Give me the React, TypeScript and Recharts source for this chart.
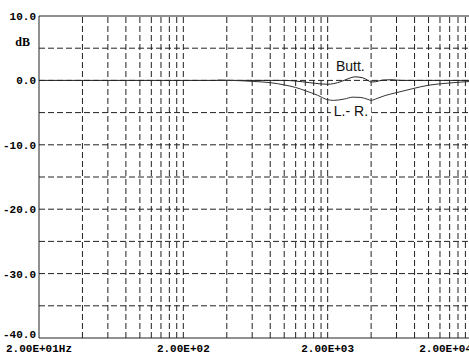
import { LineChart, Line, XAxis, YAxis, ReferenceLine, ReferenceDot } from 'recharts';

// Butterworth response (Hz / dB)
const buttFreq = [20, 1000, 1200, 1500, 1800, 2000, 2200, 2500, 2800, 3100, 3500, 3800, 4000, 4300, 4800, 5500, 6500, 20000];
const buttDb = [0, 0, -0.1, -0.35, -0.55, -0.6, -0.5, -0.15, 0.3, 0.55, 0.4, 0.0, -0.25, -0.2, 0.05, 0.1, 0, 0];

// Linkwitz-Riley response (Hz / dB)
const lrFreq = [344, 500, 600, 800, 1000, 1200, 1400, 1700, 2000, 2200, 2600, 3000, 3400, 3800, 4000, 4400, 5000, 6000, 7700, 10000, 14000, 20000];
const lrDb = [0.05, -0.05, -0.15, -0.35, -0.7, -1.1, -1.6, -2.3, -3.0, -3.1, -2.9, -2.6, -2.65, -2.95, -3.1, -2.8, -2.35, -1.9, -1.3, -0.75, -0.4, -0.15];

const xTicks = [20, 200, 2000, 20000];
const xTickLabels = ['2.00E+01Hz', '2.00E+02', '2.00E+03', '2.00E+04'];
const yTicks = [10, 0, -10, -20, -30, -40];

const decades = [20, 200, 2000];
const multipliers = [1, 2, 3, 4, 5, 6, 7, 8, 9];
const gridFreqs = decades.flatMap((d) => multipliers.map((m) => d * m)).filter((f) => f > 20);
const gridDb = [5, 0, -5, -10, -15, -20, -25, -30, -35];

const buttData = buttFreq.map((f, i) => ({ f, db: buttDb[i] }));
const lrData = lrFreq.map((f, i) => ({ f, db: lrDb[i] }));

const monoFont = '"Liberation Mono", "DejaVu Sans Mono", monospace';
const labelFont = '"Liberation Sans", Arial, sans-serif';

const XTick = (props: any) => {
  const { x, y, payload } = props;
  const i = xTicks.indexOf(payload.value);
  const anchor = i === xTicks.length - 1 ? 'end' : 'middle';
  return (
    <text x={x} y={y} dy="0.71em" textAnchor={anchor} fontFamily={monoFont} fontSize={11} fontWeight="bold" fill="#000">
      {xTickLabels[i]}
    </text>
  );
};

const YTick = (props: any) => {
  const { x, y, payload } = props;
  // bottom label sits a little above the axis so it clears the Hz label
  const lift = payload.value === yTicks[yTicks.length - 1] ? -4 : 0;
  return (
    <text x={x} y={y + lift} dy="0.355em" textAnchor="end" fontFamily={monoFont} fontSize={11} fontWeight="bold" fill="#000">
      {Number(payload.value).toFixed(1)}
    </text>
  );
};

const curveLabel = (text: string, boxed: boolean) => (props: any) => {
  const vb = props.viewBox || {};
  const cx = (vb.x ?? 0) + (vb.width || 0) / 2;
  const cy = (vb.y ?? 0) + (vb.height || 0) / 2;
  return (
    <g>
      {boxed && <rect x={cx - 20} y={cy - 12} width={40} height={15} fill="#fff" />}
      <text x={cx} y={cy} textAnchor="middle" fontFamily={labelFont} fontSize={14} fill="#111">
        {text}
      </text>
    </g>
  );
};

const unitLabel = (props: any) => {
  const vb = props.viewBox || {};
  const cx = (vb.x ?? 0) + (vb.width || 0) / 2;
  const cy = (vb.y ?? 0) + (vb.height || 0) / 2;
  return (
    <text x={cx - 9} y={cy} textAnchor="end" fontFamily='"Liberation Serif", serif' fontSize={12} fontWeight="bold" fill="#000">
      dB
    </text>
  );
};

export default function App() {
  return (
    <div style={{ position: 'absolute', left: 0, top: 0, width: 469, height: 354, overflow: 'hidden', background: '#fff' }}>
      <LineChart width={480} height={354} margin={{ top: 16, right: 8, left: 0, bottom: 0 }}>
        <XAxis
          type="number"
          dataKey="f"
          scale="log"
          domain={[20, 20000]}
          ticks={xTicks}
          allowDataOverflow
          height={16}
          tickSize={0}
          tickMargin={6}
          tickLine={false}
          axisLine={{ stroke: '#222' }}
          tick={<XTick />}
          interval={0}
        />
        <YAxis
          type="number"
          dataKey="db"
          domain={[-40, 10]}
          ticks={yTicks}
          width={39}
          tickSize={1}
          tickMargin={2}
          tickLine={false}
          axisLine={{ stroke: '#222' }}
          interval={0}
          tick={<YTick />}
        />
        {gridFreqs.map((f) => (
          <ReferenceLine key={`v${f}`} x={f} stroke="#222" strokeDasharray="6 3" />
        ))}
        {gridDb.map((d) => (
          <ReferenceLine key={`h${d}`} y={d} stroke="#222" strokeDasharray="6 3" />
        ))}
        <ReferenceLine y={10} stroke="#222" />
        <Line data={buttData} dataKey="db" type="monotone" stroke="#222" strokeWidth={1} dot={false} isAnimationActive={false} />
        <Line data={lrData} dataKey="db" type="monotone" stroke="#333" strokeWidth={1} dot={false} isAnimationActive={false} />
        <ReferenceDot x={2870} y={1.5} r={0} fill="none" stroke="none" label={curveLabel('Butt.', false)} />
        <ReferenceDot x={2900} y={-5.53} r={0} fill="none" stroke="none" label={curveLabel('L.- R.', true)} />
        <ReferenceDot x={20} y={5.3} r={0} fill="none" stroke="none" ifOverflow="visible" label={unitLabel} />
      </LineChart>
    </div>
  );
}
